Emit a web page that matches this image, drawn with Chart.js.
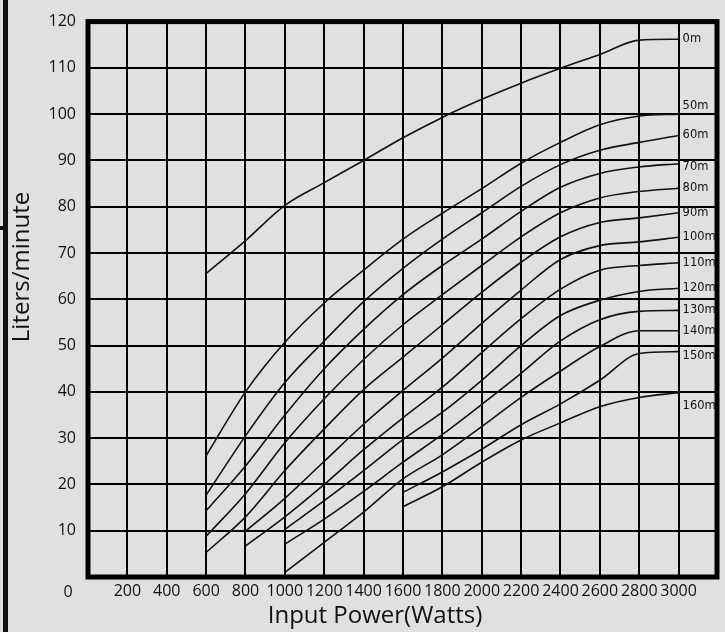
<!DOCTYPE html>
<html>
<head>
<meta charset="utf-8">
<script src="https://cdn.jsdelivr.net/npm/chart.js@4.4.1/dist/chart.umd.min.js"></script>
<style>
  html, body { margin: 0; padding: 0; background: #e0e0e0; }
  #wrap { position: relative; width: 725px; height: 632px; }
  /* 왼쪽 잘린 테두리 */
  #edge { position: absolute; left: 3px; top: 0; width: 5px; height: 632px; background: #111; }
  #stub { position: absolute; left: 0; top: 226px; width: 8px; height: 4px; background: #111; }
</style>
</head>
<body>
<div id="wrap">
  <canvas id="pump-chart" width="725" height="632"></canvas>
  <div id="edge"></div>
  <div id="stub"></div>
</div>
<script>
// 입력 전력 (W)
var watts = [600, 800, 1000, 1200, 1400, 1600, 1800, 2000, 2200, 2400, 2600, 2800, 3000];

// 양정별 유량 (L/min), 시작 전은 null
var head0 = [65.6, 72.7, 80.3, 85.2, 90.0, 94.9, 99.3, 103.2, 106.7, 109.9, 112.9, 116.0, 116.2];
var head50 = [26.2, 40.0, 50.7, 59.2, 66.3, 73.0, 78.6, 83.9, 89.4, 93.9, 97.7, 99.6, 100.0];
var head60 = [17.7, 30.5, 42.0, 51.0, 59.5, 66.7, 73.0, 78.7, 84.4, 89.1, 92.2, 93.9, 95.4];
var head70 = [14.3, 24.0, 35.0, 45.0, 53.5, 61.0, 67.3, 73.0, 79.0, 84.2, 87.2, 88.6, 89.3];
var head80 = [8.8, 18.0, 29.0, 38.5, 47.0, 54.5, 61.0, 67.3, 73.5, 78.7, 81.9, 83.3, 84.0];
var head90 = [5.3, 13.0, 23.0, 32.0, 40.5, 47.5, 54.5, 61.5, 68.0, 73.5, 76.6, 77.6, 78.7];
var head100 = [null, 9.9, 17.0, 25.0, 33.0, 40.3, 47.3, 54.8, 62.0, 68.6, 71.6, 72.4, 73.4];
var head110 = [null, 6.7, 13.0, 20.0, 27.5, 34.4, 41.0, 48.5, 55.8, 62.2, 66.3, 67.3, 67.9];
var head120 = [null, null, 10.3, 16.5, 23.0, 29.7, 35.6, 42.5, 50.0, 56.5, 59.8, 61.7, 62.4];
var head130 = [null, null, 7.1, 12.5, 18.5, 24.8, 30.8, 37.3, 44.0, 51.0, 55.6, 57.4, 57.6];
var head140 = [null, null, 1.0, 7.5, 14.0, 21.2, 26.4, 32.5, 38.8, 44.5, 49.8, 53.2, 53.2];
var head150 = [null, null, null, null, null, 18.3, 22.7, 27.6, 32.9, 37.4, 42.5, 48.3, 48.7];
var head160 = [null, null, null, null, null, 15.2, 19.5, 24.8, 29.6, 33.3, 36.8, 38.8, 39.8];

var headLabels = ["0m", "50m", "60m", "70m", "80m", "90m", "100m", "110m", "120m", "130m", "140m", "150m", "160m"];
var headSeries = [head0, head50, head60, head70, head80, head90, head100, head110, head120, head130, head140, head150, head160];

// 축 눈금
var xTicks = [200, 400, 600, 800, 1000, 1200, 1400, 1600, 1800, 2000, 2200, 2400, 2600, 2800, 3000];
var yTicks = [10, 20, 30, 40, 50, 60, 70, 80, 90, 100, 110, 120];

var FONT = "'Open Sans', 'DejaVu Sans', sans-serif";

// 라벨 위치 미세조정 (px)
var labelNudge = { "50m": -8, "70m": 3, "150m": 4, "160m": 13 };

var datasets = headSeries.map(function (vals, k) {
  var pts = [];
  for (var i = 0; i < watts.length; i++) {
    if (vals[i] !== null) pts.push({ x: watts[i], y: vals[i] });
  }
  return {
    label: headLabels[k],
    data: pts,
    borderColor: "#111",
    borderWidth: 1.6,
    pointRadius: 0,
    fill: false,
    cubicInterpolationMode: "monotone",
  };
});

// 테두리, 축 제목, 곡선 라벨
var extraText = {
  id: "extraText",
  afterDatasetsDraw: function (chart) {
    var ctx = chart.ctx;
    var a = chart.chartArea;
    var xs = chart.scales.x;
    var ys = chart.scales.y;
    ctx.save();

    // 곡선 끝 라벨
    ctx.fillStyle = "#111";
    ctx.font = "11.5px 'DejaVu Sans', sans-serif";
    ctx.textAlign = "left";
    ctx.textBaseline = "middle";
    headSeries.forEach(function (vals, k) {
      var last = vals[vals.length - 1];
      var y = ys.getPixelForValue(last) + (labelNudge[headLabels[k]] || 0);
      ctx.fillText(headLabels[k], xs.getPixelForValue(3000) + 4, y);
    });

    // 외곽선
    ctx.strokeStyle = "#000";
    ctx.lineWidth = 5;
    ctx.strokeRect(a.left, a.top, a.right - a.left, a.bottom - a.top);

    // 축 제목
    ctx.fillStyle = "#111";
    ctx.textAlign = "center";
    ctx.textBaseline = "middle";
    ctx.font = "16px " + FONT;
    ctx.fillText("0", 68, 592);
    ctx.font = "24px " + FONT;
    ctx.fillText("Input Power(Watts)", 375, 616);
    ctx.translate(22, 267);
    ctx.rotate(-Math.PI / 2);
    ctx.fillText("Liters/minute", 0, 0);
    ctx.restore();
  },
};

new Chart(document.getElementById("pump-chart"), {
  type: "line",
  data: { datasets: datasets },
  options: {
    responsive: false,
    animation: false,
    layout: { padding: { top: 13, right: 8, left: 0, bottom: 0 } },
    plugins: {
      legend: { display: false },
      tooltip: { enabled: false },
    },
    scales: {
      x: {
        type: "linear",
        min: 0,
        max: 3195,
        afterFit: function (s) { s.height = 55; },
        afterBuildTicks: function (s) {
          s.ticks = xTicks.map(function (v) { return { value: v }; });
        },
        grid: { color: "#000", lineWidth: 2, drawTicks: false },
        border: { display: false },
        ticks: {
          color: "#111",
          padding: 5,
          maxRotation: 0,
          autoSkip: false,
          font: { family: FONT, size: 16 },
          callback: function (v) { return String(v); },
        },
      },
      y: {
        min: 0,
        max: 120,
        afterFit: function (s) { s.width = 88; },
        afterBuildTicks: function (s) {
          s.ticks = yTicks.map(function (v) { return { value: v }; });
        },
        grid: { color: "#000", lineWidth: 2, drawTicks: false },
        border: { display: false },
        ticks: {
          color: "#111",
          padding: 12,
          autoSkip: false,
          font: { family: FONT, size: 16 },
          callback: function (v) { return String(v); },
        },
      },
    },
  },
  plugins: [extraText],
});
</script>
</body>
</html>
